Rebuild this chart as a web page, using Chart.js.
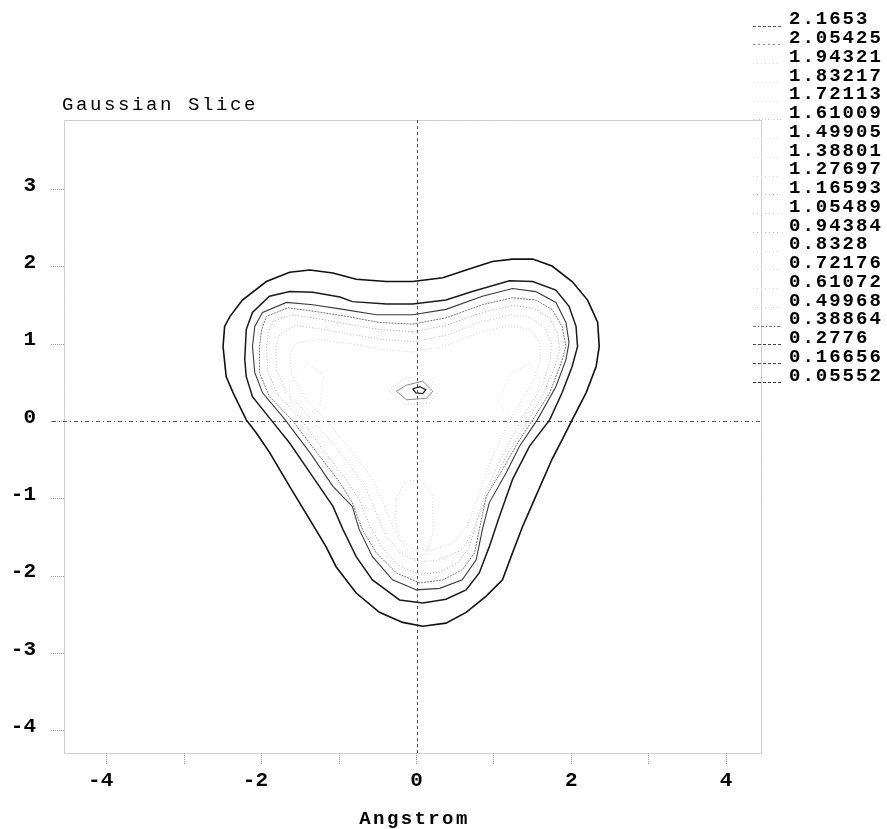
<!DOCTYPE html>
<html>
<head>
<meta charset="utf-8">
<script src="https://cdn.jsdelivr.net/npm/chart.js@4/dist/chart.umd.min.js"></script>
<style>
  html, body { margin: 0; padding: 0; background: #ffffff; }
  #wrap { width: 887px; height: 829px; }
</style>
</head>
<body>
<div id="wrap"><canvas id="c" width="887" height="829"></canvas></div>
<script>
// ---------------- DATA ----------------
const chartTitle = 'Gaussian Slice';
const xAxisTitle = 'Angstrom';

// contour levels shown in the legend (top to bottom)
const levels = ['2.1653', '2.05425', '1.94321', '1.83217', '1.72113', '1.61009', '1.49905',
  '1.38801', '1.27697', '1.16593', '1.05489', '0.94384', '0.8328', '0.72176', '0.61072',
  '0.49968', '0.38864', '0.2776', '0.16656', '0.05552'];

const xTickValues = [-4, -3, -2, -1, 0, 1, 2, 3, 4];
const xTickLabels = ['-4', '', '-2', '', '0', '', '2', '', '4'];
const yTickValues = [-4, -3, -2, -1, 0, 1, 2, 3];
const yTickLabels = ['-4', '-3', '-2', '-1', '0', '1', '2', '3'];

// contour polylines, [x, y] in Angstrom
const contour05552 = [[-0.05,1.81],[0.34,1.86],[0.64,1.96],[0.98,2.07],[1.24,2.10],[1.50,2.10],[1.75,2.01],
  [2.01,1.81],[2.21,1.57],[2.34,1.28],[2.36,0.97],[2.32,0.71],[2.19,0.37],[2.01,0.02],[1.88,-0.24],
  [1.75,-0.49],[1.54,-0.97],[1.37,-1.36],[1.24,-1.70],[1.11,-2.05],[0.90,-2.26],[0.64,-2.47],
  [0.38,-2.61],[0.08,-2.65],[-0.18,-2.60],[-0.48,-2.47],[-0.78,-2.22],[-1.04,-1.88],[-1.17,-1.62],
  [-1.38,-1.27],[-1.64,-0.84],[-1.90,-0.40],[-2.07,-0.15],[-2.20,0.02],[-2.37,0.37],[-2.46,0.58],
  [-2.50,0.97],[-2.48,1.23],[-2.41,1.36],[-2.25,1.57],[-1.94,1.81],[-1.64,1.93],[-1.38,1.96],
  [-1.08,1.92],[-0.78,1.84],[-0.39,1.81],[-0.05,1.81]];

const contour16656 = [[-0.05,1.52],[0.38,1.57],[0.72,1.68],[1.20,1.82],[1.50,1.81],[1.80,1.70],[1.97,1.49],
  [2.06,1.23],[2.08,0.97],[2.01,0.71],[1.88,0.37],[1.72,0.02],[1.46,-0.32],[1.24,-0.75],[1.07,-1.23],
  [0.94,-1.62],[0.81,-1.96],[0.64,-2.18],[0.38,-2.30],[0.08,-2.35],[-0.22,-2.31],[-0.57,-2.05],
  [-0.78,-1.75],[-0.95,-1.40],[-1.08,-1.10],[-1.38,-0.66],[-1.64,-0.28],[-1.88,0.02],[-2.12,0.32],
  [-2.20,0.58],[-2.22,0.80],[-2.20,1.19],[-2.12,1.41],[-1.90,1.62],[-1.64,1.68],[-1.34,1.67],
  [-0.99,1.61],[-0.83,1.55],[-0.39,1.52],[-0.05,1.52]];

const contour2776 = [[-0.05,1.38],[0.38,1.45],[0.85,1.62],[1.24,1.72],[1.54,1.68],[1.80,1.54],[1.93,1.28],
  [1.97,1.02],[1.93,0.80],[1.80,0.45],[1.56,0.02],[1.33,-0.32],[1.16,-0.66],[0.94,-1.05],[0.85,-1.40],
  [0.77,-1.79],[0.59,-2.05],[0.30,-2.16],[0.00,-2.18],[-0.31,-2.05],[-0.57,-1.75],[-0.74,-1.40],
  [-0.83,-1.10],[-1.08,-0.84],[-1.38,-0.40],[-1.72,0.05],[-1.99,0.37],[-2.09,0.63],[-2.12,0.97],
  [-2.09,1.23],[-1.99,1.41],[-1.68,1.54],[-1.34,1.51],[-0.95,1.45],[-0.52,1.38],[-0.05,1.38]];

const contour38864 = [[-0.05,1.26],[0.38,1.34],[0.85,1.51],[1.24,1.60],[1.54,1.57],[1.75,1.45],[1.88,1.23],
  [1.93,0.97],[1.87,0.76],[1.72,0.37],[1.50,0.02],[1.33,-0.24],[1.11,-0.62],[0.90,-0.97],[0.81,-1.40],
  [0.75,-1.70],[0.59,-1.92],[0.34,-2.05],[0.04,-2.09],[-0.26,-1.96],[-0.52,-1.70],[-0.70,-1.40],
  [-0.83,-1.05],[-0.99,-0.79],[-1.29,-0.40],[-1.61,0.02],[-1.90,0.32],[-2.03,0.63],[-2.03,0.97],
  [-2.00,1.19],[-1.94,1.36],[-1.66,1.47],[-1.29,1.42],[-0.91,1.36],[-0.48,1.28],[-0.05,1.26]];

const contour49968 = [[-0.05,1.16],[0.37,1.24],[0.85,1.41],[1.24,1.50],[1.52,1.46],[1.72,1.34],[1.82,1.15],
  [1.85,0.93],[1.78,0.69],[1.63,0.34],[1.41,-0.04],[1.17,-0.43],[0.97,-0.82],[0.79,-1.27],[0.68,-1.63],
  [0.53,-1.83],[0.30,-1.95],[0.04,-1.98],[-0.22,-1.87],[-0.44,-1.64],[-0.61,-1.34],[-0.74,-1.01],
  [-0.93,-0.73],[-1.23,-0.34],[-1.51,0.05],[-1.79,0.34],[-1.92,0.64],[-1.94,0.95],[-1.91,1.16],
  [-1.85,1.30],[-1.61,1.38],[-1.28,1.33],[-0.89,1.26],[-0.48,1.19],[-0.05,1.16]];

const contour61072 = [[-0.05,1.03],[0.37,1.11],[0.84,1.29],[1.23,1.38],[1.48,1.34],[1.65,1.22],[1.74,1.03],
  [1.73,0.80],[1.63,0.47],[1.43,0.15],[1.23,-0.21],[1.03,-0.60],[0.86,-1.01],[0.74,-1.40],[0.59,-1.66],
  [0.30,-1.79],[0.01,-1.82],[-0.22,-1.69],[-0.40,-1.47],[-0.54,-1.14],[-0.66,-0.86],[-0.86,-0.56],
  [-1.12,-0.24],[-1.41,0.09],[-1.69,0.38],[-1.81,0.67],[-1.82,0.95],[-1.77,1.13],[-1.56,1.24],
  [-1.25,1.20],[-0.86,1.13],[-0.45,1.06],[-0.05,1.03]];

const contour72176 = [[-0.05,0.90],[0.37,0.98],[0.81,1.15],[1.20,1.24],[1.46,1.19],[1.59,1.03],[1.60,0.80],
  [1.50,0.51],[1.30,0.18],[1.11,-0.17],[0.94,-0.56],[0.79,-0.99],[0.66,-1.34],[0.49,-1.56],[0.23,-1.66],
  [-0.03,-1.66],[-0.22,-1.53],[-0.35,-1.27],[-0.45,-0.99],[-0.61,-0.69],[-0.84,-0.39],[-1.12,-0.04],
  [-1.45,0.31],[-1.61,0.60],[-1.64,0.86],[-1.55,1.02],[-1.28,1.06],[-0.86,1.01],[-0.45,0.93],[-0.05,0.90]];

// small loops inside the shell
const centreCore = [[-0.05,0.42],[0.04,0.45],[0.12,0.41],[0.08,0.36],[-0.01,0.37],[-0.05,0.42]];
const centreRing = [[-0.26,0.39],[-0.13,0.47],[0.08,0.52],[0.21,0.39],[0.13,0.30],[-0.13,0.28],[-0.26,0.39]];
const centreOuter = [[-0.36,0.40],[-0.18,0.55],[0.10,0.60],[0.30,0.42],[0.18,0.24],[-0.15,0.22],[-0.36,0.40]];
const lowerLobe = [[-0.26,-1.00],[-0.15,-0.78],[0.05,-0.75],[0.20,-0.95],[0.22,-1.40],[0.12,-1.72],
  [-0.05,-1.78],[-0.20,-1.55],[-0.28,-1.25],[-0.26,-1.00]];
const leftLobe = [[-1.65,0.50],[-1.40,0.75],[-1.20,0.60],[-1.25,0.20],[-1.45,0.05],[-1.62,0.22],[-1.65,0.50]];
const rightLobe = [[1.05,0.25],[1.20,0.60],[1.45,0.75],[1.60,0.55],[1.50,0.15],[1.25,0.00],[1.05,0.25]];

// ---------------- STYLES ----------------
const monoFont = "'Liberation Mono', 'Courier New', monospace";

// legend sample styles, one per level (top to bottom)
const legendStyles = [
  {c:'#555', d:[3,2]}, {c:'#888', d:[2,3]}, {c:'#ddd', d:[1,3]}, {c:'#e6e6e6', d:[1,3]},
  {c:'#e6e6e6', d:[1,3]}, {c:'#ccc', d:[1,2]}, {c:'#e6e6e6', d:[1,3]}, {c:'#e6e6e6', d:[1,3]},
  {c:'#ddd', d:[1,3]}, {c:'#bbb', d:[1,3]}, {c:'#ccc', d:[1,3]}, {c:'#bbb', d:[1,3]},
  {c:'#ddd', d:[1,3]}, {c:'#ddd', d:[1,3]}, {c:'#ddd', d:[1,3]}, {c:'#ccc', d:[1,3]},
  {c:'#777', d:[3,2,1,2]}, {c:'#444', d:[3,2]}, {c:'#444', d:[3,2]}, {c:'#333', d:[3,2]}
];

function line(data, color, width, dash, label) {
  return {
    label: label,
    data: data.map(p => ({x: p[0], y: p[1]})),
    showLine: true, borderColor: color, borderWidth: width, borderDash: dash,
    pointRadius: 0, pointHoverRadius: 0, tension: 0, fill: false
  };
}

const datasets = [
  line(lowerLobe, '#d6d6d6', 1, [1,2], '0.94384'),
  line(leftLobe, '#dddddd', 1, [1,2], '0.94384'),
  line(rightLobe, '#dddddd', 1, [1,2], '0.94384'),
  line(centreOuter, '#cfcfcf', 1, [1,2], '0.61072'),
  line(contour72176, '#d0d0d0', 1, [1,2], '0.72176'),
  line(contour61072, '#c0c0c0', 1, [1,2], '0.61072'),
  line(contour49968, '#aaaaaa', 1, [1,2], '0.49968'),
  line(contour38864, '#777777', 1, [2,1], '0.38864'),
  line(contour2776, '#3a3a3a', 1.1, [], '0.2776'),
  line(contour16656, '#1a1a1a', 1.5, [], '0.16656'),
  line(contour05552, '#111111', 1.6, [], '0.05552'),
  line(centreRing, '#888888', 1, [], '0.38864'),
  line(centreCore, '#222222', 1.3, [], '0.2776')
];

// ---------------- DECORATION PLUGIN ----------------
const decor = {
  id: 'decor',
  beforeDatasetsDraw(chart) {
    const {ctx, chartArea: a, scales: {x, y}} = chart;
    ctx.save();
    ctx.lineWidth = 1;
    ctx.strokeStyle = '#a0a0a0';
    ctx.setLineDash([1, 1]);
    ctx.strokeRect(Math.round(a.left) + 0.5, Math.round(a.top) + 0.5,
      Math.round(a.right - a.left), Math.round(a.bottom - a.top));
    const x0 = Math.round(x.getPixelForValue(0)) + 0.5;
    const y0 = Math.round(y.getPixelForValue(0)) + 0.5;
    ctx.strokeStyle = '#555';
    ctx.setLineDash([3, 3]);
    ctx.beginPath(); ctx.moveTo(x0, a.top); ctx.lineTo(x0, a.bottom); ctx.stroke();
    ctx.setLineDash([4, 3, 1, 3]);
    ctx.beginPath(); ctx.moveTo(a.left - 12, y0); ctx.lineTo(a.right, y0); ctx.stroke();
    ctx.restore();
  },
  afterDraw(chart) {
    const {ctx, chartArea: a} = chart;
    ctx.save();
    ctx.fillStyle = '#000';
    // title
    ctx.font = '19px ' + monoFont;
    ctx.letterSpacing = '2.6px';
    ctx.textAlign = 'left';
    ctx.textBaseline = 'middle';
    ctx.fillText(chartTitle, a.left - 2, 105);
    // x axis title
    ctx.font = 'bold 19px ' + monoFont;
    ctx.letterSpacing = '2.4px';
    ctx.textAlign = 'center';
    ctx.fillText(xAxisTitle, (a.left + a.right) / 2 + 2, 819);
    // legend
    ctx.font = 'bold 19px ' + monoFont;
    ctx.letterSpacing = '2px';
    ctx.textAlign = 'left';
    levels.forEach((lv, i) => {
      const yc = 19.7 + i * 18.75;
      ctx.fillStyle = '#000';
      ctx.fillText(lv, 789, yc);
      const st = legendStyles[i];
      ctx.strokeStyle = st.c;
      ctx.lineWidth = 1;
      ctx.setLineDash(st.d);
      ctx.beginPath();
      ctx.moveTo(753, Math.round(yc + 6) + 0.5);
      ctx.lineTo(781, Math.round(yc + 6) + 0.5);
      ctx.stroke();
    });
    ctx.restore();
  }
};

// ---------------- CHART ----------------
new Chart(document.getElementById('c'), {
  type: 'scatter',
  data: { datasets },
  options: {
    responsive: false,
    devicePixelRatio: 1,
    animation: false,
    events: [],
    layout: { padding: { top: 120, right: 126, left: 0, bottom: 0 } },
    plugins: { legend: { display: false }, tooltip: { enabled: false }, title: { display: false } },
    scales: {
      x: {
        type: 'linear', position: 'bottom', min: -4.555, max: 4.45,
        afterFit(s) { s.height = 76; },
        afterBuildTicks(s) { s.ticks = xTickValues.map(v => ({value: v})); },
        border: { display: false },
        grid: { drawOnChartArea: false, drawTicks: true, tickLength: 12, color: '#9a9a9a',
                tickBorderDash: [1, 1], lineWidth: 1 },
        ticks: {
          autoSkip: false, maxRotation: 0, includeBounds: false, padding: 3,
          color: '#000', font: { family: monoFont, size: 21, weight: 'bold' },
          callback(v) { const i = xTickValues.indexOf(v); const t = i >= 0 ? xTickLabels[i] : ''; return v < 0 && t ? t + ' ' : t; }
        }
      },
      y: {
        type: 'linear', position: 'left', min: -4.29, max: 3.9,
        afterFit(s) { s.width = 64; },
        afterBuildTicks(s) { s.ticks = yTickValues.map(v => ({value: v})); },
        border: { display: false },
        grid: { drawOnChartArea: false, drawTicks: true, tickLength: 13, color: '#9a9a9a',
                tickBorderDash: [1, 1], lineWidth: 1 },
        ticks: {
          autoSkip: false, includeBounds: false, padding: 15, labelOffset: -4,
          color: '#000', font: { family: monoFont, size: 21, weight: 'bold' },
          callback(v) { const i = yTickValues.indexOf(v); return i >= 0 ? yTickLabels[i] : ''; }
        }
      }
    }
  },
  plugins: [decor]
});
</script>
</body>
</html>
